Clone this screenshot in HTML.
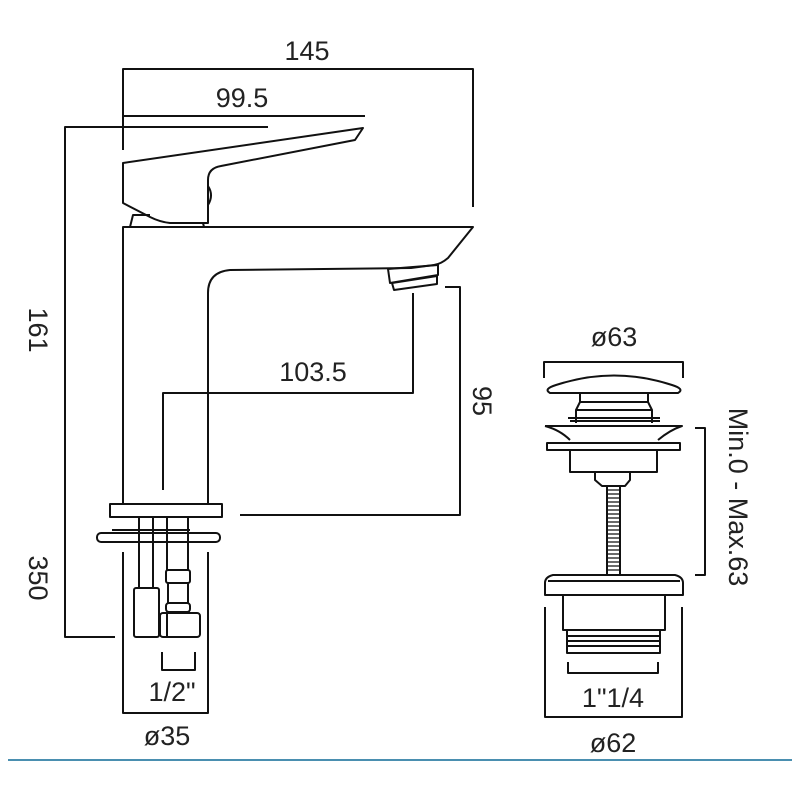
<!DOCTYPE html>
<html><head><meta charset="utf-8"><style>
html,body{margin:0;padding:0;background:#fff;width:800px;height:800px;overflow:hidden}
svg{display:block}
text{font-family:"Liberation Sans",sans-serif;font-size:27px;fill:#222;font-weight:300}
</style></head><body>
<svg width="800" height="800" viewBox="0 0 800 800" xmlns="http://www.w3.org/2000/svg">
<g fill="none" stroke="#111" stroke-width="2" stroke-linejoin="round">
<!-- 145 -->
<polyline points="123,150 123,69 473,69 473,207"/>
<!-- 99.5 -->
<line x1="123" y1="116" x2="365" y2="116"/>
<!-- 161 -->
<polyline points="268,127 65,127 65,637 115,637"/>
<!-- handle -->
<path d="M123,163 L363,128 L355,140 L221,166 Q208,168 208,180 L208,223 L170,223 Q160,222 150,217 L123,203 Z"/>
<path d="M208,186 Q214,195 208,205"/>
<path d="M130,227 L133,215 L150,215"/>
<line x1="203" y1="223" x2="204" y2="227"/>
<!-- body -->
<path d="M123,504 L123,227 L473,227 L448,258 Q441,264 434,265 L411,268 L230,270 Q208,272 208,293 L208,504"/>
<!-- aerator -->
<path d="M388,269 L438,265 L438,275 L390,283 Z"/>
<path d="M392,283 L437,276 L437,284 L394,290 Z"/>
<!-- 95 -->
<polyline points="445,287 460,287 460,515 240,515"/>
<!-- 103.5 -->
<polyline points="413,293 413,393 163,393 163,490"/>
<!-- base -->
<rect x="110" y="504" width="112" height="13"/>
<rect x="97" y="533" width="123" height="9" rx="4"/>
<line x1="112" y1="530" x2="190" y2="530"/>
<line x1="139" y1="517" x2="139" y2="588"/>
<line x1="153" y1="517" x2="153" y2="588"/>
<line x1="167" y1="517" x2="167" y2="570"/>
<line x1="188" y1="517" x2="188" y2="570"/>
<rect x="134" y="588" width="25" height="49" rx="2"/>
<rect x="166" y="570" width="24" height="13" rx="2"/>
<line x1="168" y1="583" x2="168" y2="603"/>
<line x1="188" y1="583" x2="188" y2="603"/>
<rect x="166" y="603" width="24" height="9" rx="3"/>
<rect x="160" y="613" width="40" height="24" rx="3"/>
<line x1="167" y1="613" x2="167" y2="637"/>
<!-- ø35 -->
<polyline points="123,552 123,713 208,713 208,552"/>
<!-- 1/2 -->
<polyline points="162,652 162,670 195,670 195,652"/>

<!-- waste -->
<polyline points="544,378 544,362 683,362 683,378"/>
<path d="M550,393 Q543,389 556,385 Q614,366 672,385 Q685,389 678,393 Z"/>
<path d="M580,394 L580,402 L576,410 L576,423 M648,394 L648,402 L652,410 L652,423"/>
<line x1="580" y1="402" x2="648" y2="402"/>
<line x1="576" y1="410" x2="652" y2="410"/>
<path d="M568,418 L660,418 M570,421 L660,421"/>
<path d="M545,426 L682,426 Q670,430 658,440 M545,426 Q560,430 570,440"/>
<rect x="547" y="443" width="133" height="7"/>
<rect x="570" y="450" width="87" height="22"/>
<path d="M595,472 L595,480 L602,486 L625,486 L630,480 L630,472"/>
<rect x="607" y="486" width="13" height="89"/>
<path d="M607,490 L620,490 M607,494 L620,494 M607,498 L620,498 M607,502 L620,502 M607,506 L620,506 M607,510 L620,510 M607,514 L620,514 M607,518 L620,518 M607,522 L620,522 M607,526 L620,526 M607,530 L620,530 M607,534 L620,534 M607,538 L620,538 M607,542 L620,542 M607,546 L620,546 M607,550 L620,550 M607,554 L620,554 M607,558 L620,558 M607,562 L620,562 M607,566 L620,566 M607,570 L620,570" stroke-width="1.3"/>
<polyline points="695,428 705,428 705,575 695,575"/>
<path d="M553,575 L675,575 Q683,577 683,583 L683,595 L545,595 L545,583 Q545,577 553,575 Z"/>
<line x1="548" y1="581" x2="680" y2="581"/>
<polyline points="563,595 563,630 665,630 665,595"/>
<path d="M567,630 L567,653 L660,653 L660,630 M567,636 L660,636 M567,641 L660,641 M567,646 L660,646"/>
<polyline points="568,662 568,673 658,673 658,662"/>
<polyline points="545,607 545,717 682,717 682,607"/>
</g>
<line x1="8" y1="760" x2="792" y2="760" stroke="#4a8fb0" stroke-width="2"/>
<text x="307" y="60" text-anchor="middle">145</text>
<text x="242" y="107" text-anchor="middle">99.5</text>
<text x="313" y="381" text-anchor="middle">103.5</text>
<text transform="translate(29,330) rotate(90)" text-anchor="middle">161</text>
<text transform="translate(29,578) rotate(90)" text-anchor="middle">350</text>
<text transform="translate(473,401) rotate(90)" text-anchor="middle">95</text>
<text x="172" y="701" text-anchor="middle">1/2"</text>
<text x="167" y="745" text-anchor="middle">ø35</text>
<text x="614" y="346" text-anchor="middle">ø63</text>
<text transform="translate(729,497) rotate(90)" text-anchor="middle">Min.0 - Max.63</text>
<text x="613" y="707" text-anchor="middle">1"1/4</text>
<text x="613" y="752" text-anchor="middle">ø62</text>
</svg>
</body></html>
